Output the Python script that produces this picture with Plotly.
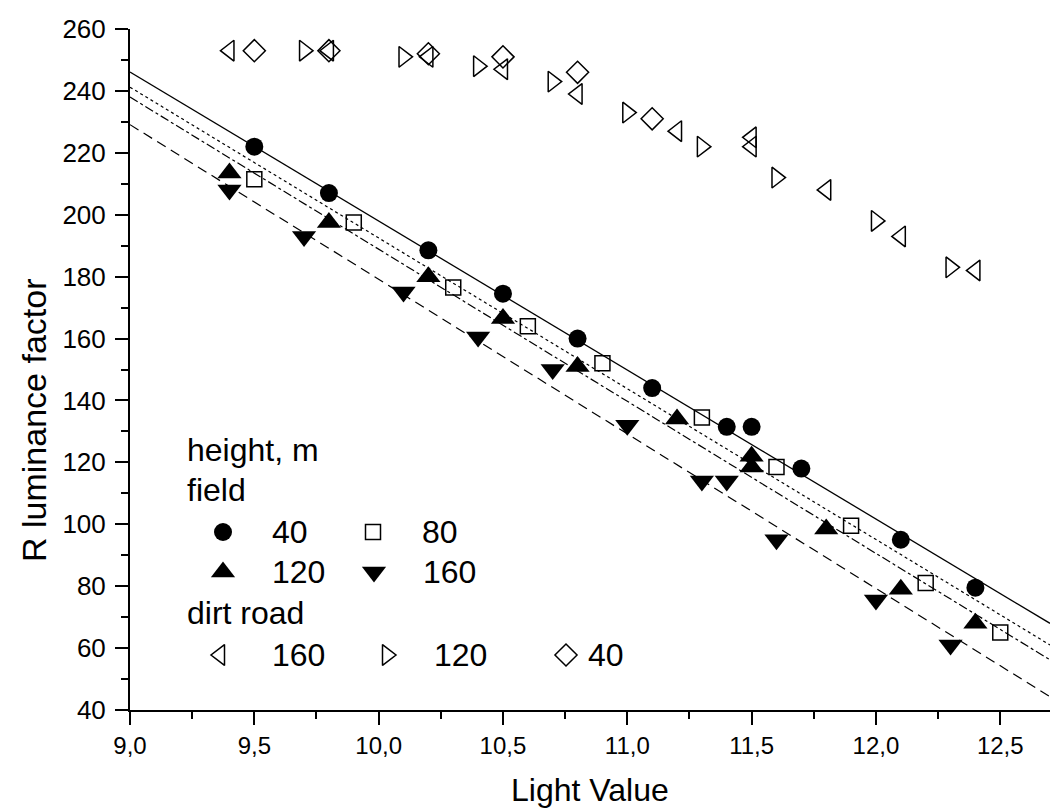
import plotly.graph_objects as go

# ---------------- data ----------------
# field, height 40 m (filled circles)
field40_x = [9.5, 9.8, 10.2, 10.5, 10.8, 11.1, 11.4, 11.5, 11.7, 12.1, 12.4]
field40_y = [222, 207, 188.5, 174.5, 160, 144, 131.5, 131.5, 118, 95, 79.5]
# field, height 80 m (open squares)
field80_x = [9.5, 9.9, 10.3, 10.6, 10.9, 11.3, 11.6, 11.9, 12.2, 12.5]
field80_y = [211.5, 197.5, 176.5, 164, 152, 134.5, 118.5, 99.5, 81, 65]
# field, height 120 m (filled up-triangles)
field120_x = [9.4, 9.8, 10.2, 10.5, 10.8, 11.2, 11.5, 11.5, 11.8, 12.1, 12.4]
field120_y = [213.5, 197.5, 180, 166.5, 151, 134, 122, 118.5, 98.5, 79, 68]
# field, height 160 m (filled down-triangles)
field160_x = [9.4, 9.7, 10.1, 10.4, 10.7, 11.0, 11.3, 11.4, 11.6, 12.0, 12.3]
field160_y = [208, 193, 175, 160.5, 150, 132, 114, 114, 95, 75.5, 61]

# dirt road, 160 m (open left triangles)
road160_x = [9.4, 9.8, 10.2, 10.5, 10.8, 11.2, 11.5, 11.5, 11.8, 12.1, 12.4]
road160_y = [253, 253, 251, 247, 239, 227, 225, 222, 208, 193, 182]
# dirt road, 120 m (open right triangles)
road120_x = [9.7, 10.1, 10.4, 10.7, 11.0, 11.3, 11.6, 12.0, 12.3]
road120_y = [253, 251, 248, 243, 233, 222, 212, 198, 183]
# dirt road, 40 m (open diamonds)
road40_x = [9.5, 9.8, 10.2, 10.5, 10.8, 11.1]
road40_y = [253, 253, 252, 251, 246, 231]

# linear fits for the field series (value at x = 9.0 and x = 12.7)
fit_x = [9.0, 12.7]
fit40_y = [246.1, 68.0]
fit80_y = [241.2, 61.0]
fit120_y = [238.0, 56.2]
fit160_y = [229.1, 44.3]

x_ticks = [9.0, 9.5, 10.0, 10.5, 11.0, 11.5, 12.0, 12.5]
x_ticktext = ["9,0", "9,5", "10,0", "10,5", "11,0", "11,5", "12,0", "12,5"]

x_title = "Light Value"
y_title = "R luminance factor"
legend_headers = ["height, m", "field", "dirt road"]
legend_labels = ["40", "80", "120", "160", "160", "120", "40"]

# ---------------- figure ----------------
BLACK = "black"
FONT = "Liberation Sans, Arial, sans-serif"
fig = go.Figure()

line_styles = [
    (fit40_y, "solid", 1.3),
    (fit80_y, "dot", 1.2),
    (fit120_y, "dashdot", 1.2),
    (fit160_y, "10px,6px", 1.2),
]
for ys, dash, w in line_styles:
    fig.add_trace(go.Scatter(x=fit_x, y=ys, mode="lines",
                             line=dict(color=BLACK, width=w, dash=dash),
                             showlegend=False, hoverinfo="skip"))

def marker(symbol, size, lw=0):
    return dict(symbol=symbol, size=size, color=BLACK,
                line=dict(color=BLACK, width=lw))

M_CIRC = marker("circle", 18)
M_SQ = marker("square-open", 15, 1.5)
M_UP = marker("triangle-up", 21)
M_DN = marker("triangle-down", 21)
M_LEFT = marker("triangle-left-open", 18, 1.5)
M_RIGHT = marker("triangle-right-open", 18, 1.5)
M_DIA = marker("diamond-open", 17, 1.5)

series = [
    (road160_x, road160_y, M_LEFT),
    (road120_x, road120_y, M_RIGHT),
    (road40_x, road40_y, M_DIA),
    (field80_x, field80_y, M_SQ),
    (field160_x, field160_y, M_DN),
    (field120_x, field120_y, M_UP),
    (field40_x, field40_y, M_CIRC),
]
for xs, ys, m in series:
    fig.add_trace(go.Scatter(x=xs, y=ys, mode="markers", marker=m,
                             showlegend=False))

# ---------------- hand-made legend (overlay axes in pixel units) ----------------
legend_keys = [
    (223, 532, M_CIRC),
    (373, 532, M_SQ),
    (223, 572, M_UP),
    (374, 572, M_DN),
    (220, 655, M_LEFT),
    (387, 655, M_RIGHT),
    (566, 655, M_DIA),
]
for kx, ky, m in legend_keys:
    fig.add_trace(go.Scatter(x=[kx], y=[ky], mode="markers", marker=m,
                             xaxis="x2", yaxis="y2", showlegend=False,
                             hoverinfo="skip"))

LEG_FONT = dict(family=FONT, size=32, color=BLACK)
header_pos = [(185, 450), (185, 490), (185, 613)]
label_pos = [(270, 532), (420, 532), (270, 572), (421, 572),
             (270, 655), (432, 655), (586, 655)]
annotations = []
for txt, (ax_, ay_) in zip(legend_headers, header_pos):
    annotations.append(dict(text=txt, x=ax_, y=ay_, xref="x2", yref="y2",
                            xanchor="left", yanchor="middle", showarrow=False,
                            font=LEG_FONT))
for txt, (ax_, ay_) in zip(legend_labels, label_pos):
    annotations.append(dict(text=txt, x=ax_, y=ay_, xref="x2", yref="y2",
                            xanchor="left", yanchor="middle", showarrow=False,
                            font=LEG_FONT))

# axis titles placed as annotations (paper coords)
annotations.append(dict(text=x_title, x=0.5, y=-0.117, xref="paper", yref="paper",
                        xanchor="center", yanchor="middle", showarrow=False,
                        font=dict(family=FONT, size=32, color=BLACK)))
annotations.append(dict(text=y_title, x=-0.105, y=0.425, xref="paper", yref="paper",
                        xanchor="center", yanchor="middle", showarrow=False,
                        textangle=-90,
                        font=dict(family=FONT, size=34, color=BLACK)))

axis_common = dict(showline=True, linewidth=2, linecolor=BLACK, mirror=False,
                   ticks="outside", ticklen=13, tickwidth=2, tickcolor=BLACK,
                   showgrid=False, zeroline=False, automargin=False)

fig.update_layout(
    width=1051, height=812,
    margin=dict(l=130, r=1, t=29, b=102, autoexpand=False),
    plot_bgcolor="white", paper_bgcolor="white",
    annotations=annotations,
    xaxis=dict(range=[9.0, 12.7], tickvals=x_ticks, ticktext=x_ticktext,
               tickfont=dict(family=FONT, size=24, color=BLACK),
               minor=dict(dtick=0.25, tick0=9.0, ticks="outside", ticklen=7,
                          tickwidth=2, tickcolor=BLACK, showgrid=False),
               **axis_common),
    yaxis=dict(range=[40, 260], tick0=40, dtick=20,
               tickfont=dict(family=FONT, size=26, color=BLACK),
               ticklabelstandoff=4,
               minor=dict(dtick=10, tick0=40, ticks="outside", ticklen=7,
                          tickwidth=2, tickcolor=BLACK, showgrid=False),
               **axis_common),
    xaxis2=dict(range=[130, 1050], overlaying="x", anchor="y2", visible=False),
    yaxis2=dict(range=[710, 29], overlaying="y", anchor="x2", visible=False),
    showlegend=False,
)

fig.write_html("out.html", config={"displayModeBar": False},
               post_script="document.body.style.margin='0';document.body.style.overflow='hidden';")
